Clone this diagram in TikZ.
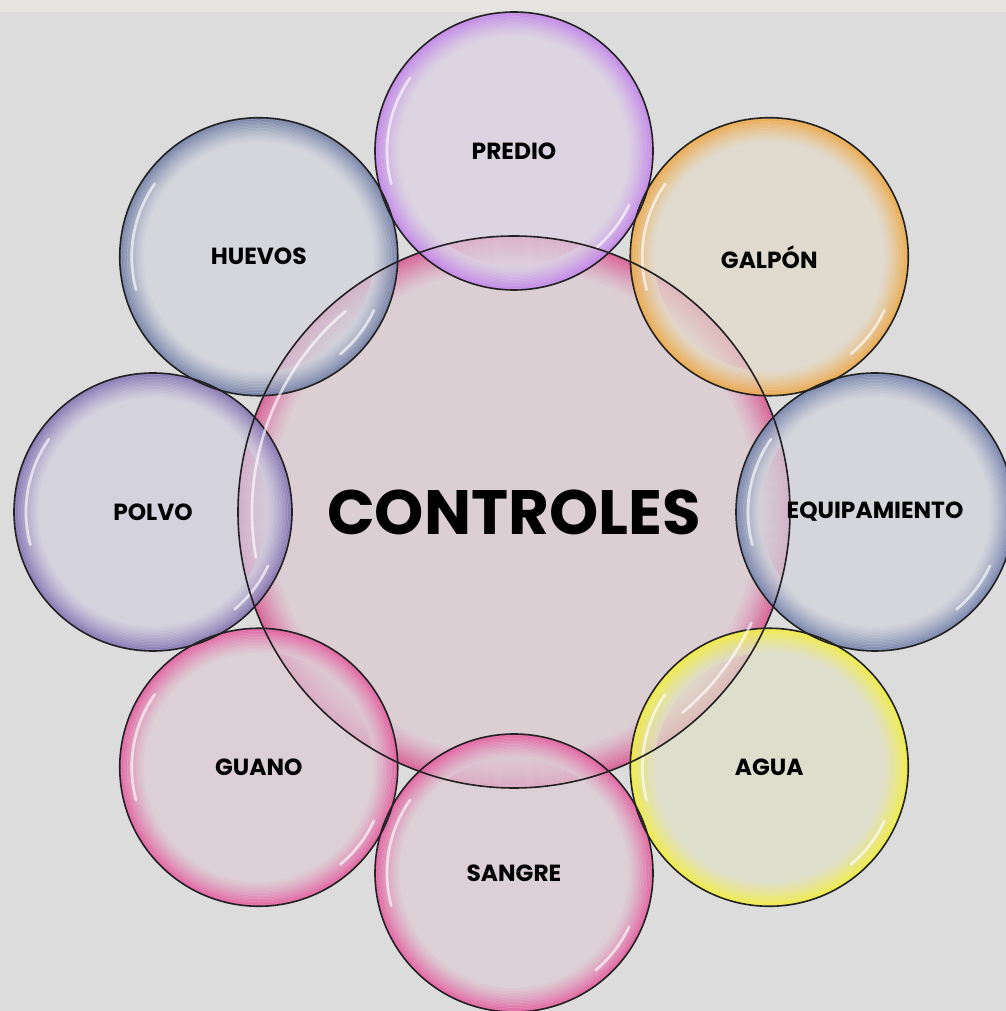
\documentclass[tikz,border=0pt]{standalone}
\usepackage{fontspec}
\setmainfont{Poppins}
\usetikzlibrary{calc}
\definecolor{bg}{HTML}{DCDCDC}
\definecolor{topband}{HTML}{E6E4E0}
\definecolor{outline}{HTML}{222222}
\definecolor{cfill}{HTML}{DCCAD2}\definecolor{crim}{HTML}{D8488A}
\definecolor{pfill}{HTML}{DCD2E2}\definecolor{prim}{HTML}{BE76EC}
\definecolor{gfill}{HTML}{E3DACA}\definecolor{grim}{HTML}{F0A030}
\definecolor{efill}{HTML}{D2D4DC}\definecolor{erim}{HTML}{6272A2}
\definecolor{afill}{HTML}{E0DFC6}\definecolor{arim}{HTML}{F6F226}
\definecolor{sfill}{HTML}{DDCBD4}\definecolor{srim}{HTML}{E64A96}
\definecolor{vfill}{HTML}{D2CFDE}\definecolor{vrim}{HTML}{7462AA}
\definecolor{hfill}{HTML}{D1D4DD}\definecolor{hrim}{HTML}{61709C}
\tikzset{
  bubble/.style n args={4}{circle, inner sep=0pt, minimum size=#3*1.5pt,
    fill=#1, fill opacity=0.7,
    path picture={
      \foreach \i in {0,...,15}{
        \pgfmathsetmacro\pct{int(100*(1-\i/16)^1.25)}
        \pgfmathsetmacro\ro{#3-\i*#4/16}
        \pgfmathsetmacro\ri{#3-(\i+1)*#4/16}
        \fill[#2!\pct!#1, fill opacity=0.78, even odd rule]
          (path picture bounding box.center) circle[radius=\ro] circle[radius=\ri];
      }}},
  small/.style 2 args={bubble={#1}{#2}{139}{24}},
  big/.style 2 args={bubble={#1}{#2}{276}{32}},
  lbl/.style={inner sep=0pt, text=black, font=\bfseries\fontsize{17.5}{19}\selectfont},
  biglbl/.style={lbl, font=\bfseries\fontsize{47}{50}\selectfont},
  hl/.style={draw=white, draw opacity=0.65, line width=2pt, line cap=round},
  rimline/.style={draw=outline, line width=1.2pt},
}
\begin{document}
\begin{tikzpicture}[x=0.75pt,y=0.75pt]
\fill[bg] (0,0) rectangle (1006,1011);
\fill[topband] (0,999) rectangle (1006,1011);
\useasboundingbox (0,0) rectangle (1006,1011);
\coordinate (o) at (514,499);
\node[big={cfill}{crim}] (ctl) at (o) {};
\node[small={pfill}{prim}] (predio) at ($(o)+(90:361)$) {};
\node[small={gfill}{grim}] (galpon) at ($(o)+(45:361)$) {};
\node[small={efill}{erim}] (equip) at ($(o)+(0:361)$) {};
\node[small={afill}{arim}] (agua) at ($(o)+(-45:361)$) {};
\node[small={sfill}{srim}] (sangre) at ($(o)+(-90:361)$) {};
\node[small={sfill}{srim}] (guano) at ($(o)+(-135:361)$) {};
\node[small={vfill}{vrim}] (polvo) at ($(o)+(180:361)$) {};
\node[small={hfill}{hrim}] (huevos) at ($(o)+(135:361)$) {};
\foreach \n in {predio,galpon,equip,agua,sangre,guano,polvo,huevos}{
  \draw[hl] ($(\n.center)+(145:127)$) arc[start angle=145, end angle=195, radius=127];
  \draw[hl] ($(\n.center)+(-50:127)$) arc[start angle=-50, end angle=-25, radius=127];
  \draw[rimline] (\n.center) circle[radius=139];
}
\draw[hl] ($(ctl.center)+(130:262)$) arc[start angle=130, end angle=190, radius=262];
\draw[hl] ($(ctl.center)+(-50:262)$) arc[start angle=-50, end angle=-25, radius=262];
\draw[rimline] (ctl.center) circle[radius=276];
\node[biglbl] (tctl) at (ctl.center) {CONTROLES};
\node[lbl] (tpredio) at (predio.center) {PREDIO};
\node[lbl] (tgalpon) at (galpon.center) {GALPÓN};
\node[lbl] (tequip) at (equip.center) {EQUIPAMIENTO};
\node[lbl] (tagua) at (agua.center) {AGUA};
\node[lbl] (tsangre) at (sangre.center) {SANGRE};
\node[lbl] (tguano) at (guano.center) {GUANO};
\node[lbl] (tpolvo) at (polvo.center) {POLVO};
\node[lbl] (thuevos) at (huevos.center) {HUEVOS};
\end{tikzpicture}
\end{document}
